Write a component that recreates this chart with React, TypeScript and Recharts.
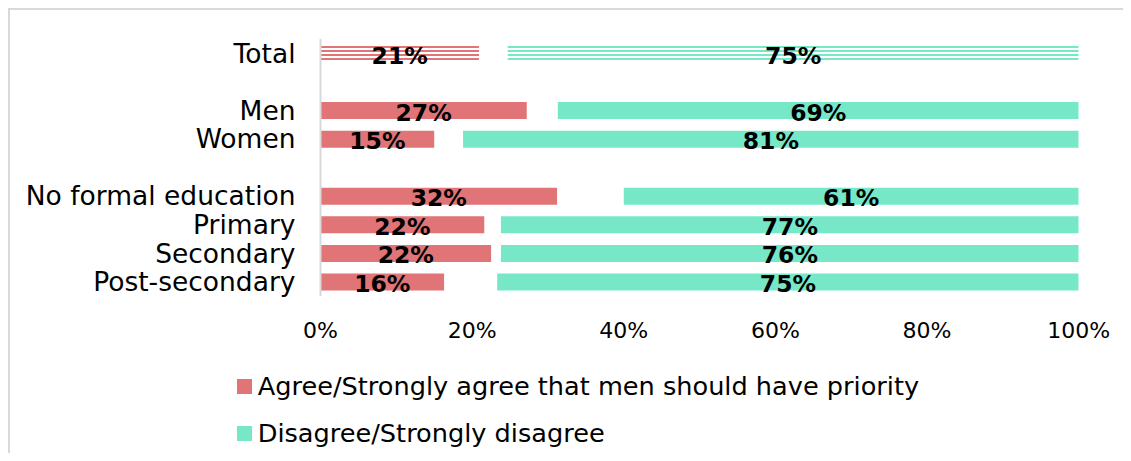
import React from "react";
import { BarChart, Bar, XAxis, YAxis, Legend, LabelList, Cell } from "recharts";

const categories = ["Total", " ", "Men", "Women", "  ", "No formal education", "Primary", "Secondary", "Post-secondary"];
const agreeValues = [20.9, null, 27.2, 15.0, null, 31.2, 21.6, 22.5, 16.3];
const neitherValues = [3.8, null, 4.1, 3.8, null, 8.8, 2.2, 1.3, 7.0];
const disagreeValues = [75.3, null, 68.7, 81.2, null, 60.0, 76.2, 76.2, 76.7];
const agreeLabels = [21, null, 27, 15, null, 32, 22, 22, 16];
const disagreeLabels = [75, null, 69, 81, null, 61, 77, 76, 75];
const xTicks = [0, 20, 40, 60, 80, 100];
const seriesNames = ["Agree/Strongly agree that men should have priority", "Disagree/Strongly disagree"];

const RED = "#E07476";
const TEAL = "#76E8C8";
const FONT = "DejaVu Sans";

const data = categories.map((name, i) => ({
  name,
  agree: agreeValues[i],
  neither: neitherValues[i],
  disagree: disagreeValues[i],
  agreeLabel: agreeLabels[i],
  disagreeLabel: disagreeLabels[i],
}));

const renderLabel = (props: any) => {
  const vb = props.viewBox || props;
  const { x, y, width, height } = vb;
  const value = props.value;
  if (value === null || value === undefined || x === undefined) return null;
  return (
    <text
      x={x + width / 2}
      y={y + height / 2 + 2}
      textAnchor="middle"
      dominantBaseline="central"
      fontFamily={FONT}
      fontWeight="bold"
      fontSize={23.5}
      fill="#000"
    >
      {`${value}%`}
    </text>
  );
};

const renderLegend = (props: any) => {
  const items = (props.payload || []).filter((p: any) => p.type !== "none");
  return (
    <div style={{ fontFamily: FONT, fontSize: 25.6, color: "#000" }}>
      {items.map((p: any) => (
        <div key={p.value} style={{ display: "flex", alignItems: "center", height: 46.7, whiteSpace: "nowrap" }}>
          <span style={{ display: "inline-block", width: 15, height: 15, background: p.color, marginRight: 6 }} />
          <span>{p.value}</span>
        </div>
      ))}
    </div>
  );
};

export default function App() {
  return (
    <div style={{ borderTop: "2px solid #d9d9d9", borderLeft: "2px solid #d9d9d9", width: 1140, height: 443 }}>
      <style>{"html,body{overflow:hidden;}"}</style>
      <BarChart
        width={1121}
        height={443}
        data={data}
        layout="vertical"
        barSize={17}
        margin={{ top: 29, right: 52.3, left: 0, bottom: 117 }}
      >
        <defs>
          <pattern id="stripeRed" patternUnits="userSpaceOnUse" width="8" height="4">
            <rect x="0" y="0" width="8" height="2" fill={RED} />
          </pattern>
          <pattern id="stripeTeal" patternUnits="userSpaceOnUse" width="8" height="4">
            <rect x="0" y="0" width="8" height="2" fill={TEAL} />
          </pattern>
        </defs>
        <XAxis
          type="number"
          domain={[0, 100]}
          ticks={xTicks}
          tickFormatter={(v: number) => `${v}%`}
          axisLine={false}
          tickLine={false}
          tickSize={0}
          tickMargin={26}
          height={40}
          tick={{ fontFamily: FONT, fontSize: 22, fill: "#000" }}
          interval={0}
          allowDataOverflow
        />
        <YAxis
          type="category"
          dataKey="name"
          width={310.5}
          axisLine={{ stroke: "#d9d9d9", strokeWidth: 2 }}
          tickLine={false}
          tickSize={0}
          tickMargin={25}
          interval={0}
          tick={{ fontFamily: FONT, fontSize: 26.5, fill: "#000" }}
        />
        <Legend
          layout="vertical"
          align="center"
          verticalAlign="middle"
          wrapperStyle={{ left: 226.7, top: 353 }}
          content={renderLegend}
        />
        <Bar dataKey="agree" name={seriesNames[0]} stackId="a" fill={RED} isAnimationActive={false}>
          {data.map((d, i) => (
            <Cell key={i} fill={i === 0 ? "url(#stripeRed)" : RED} />
          ))}
          <LabelList dataKey="agreeLabel" content={renderLabel} />
        </Bar>
        <Bar dataKey="neither" stackId="a" fill="transparent" legendType="none" isAnimationActive={false} />
        <Bar dataKey="disagree" name={seriesNames[1]} stackId="a" fill={TEAL} isAnimationActive={false}>
          {data.map((d, i) => (
            <Cell key={i} fill={i === 0 ? "url(#stripeTeal)" : TEAL} />
          ))}
          <LabelList dataKey="disagreeLabel" content={renderLabel} />
        </Bar>
      </BarChart>
    </div>
  );
}
